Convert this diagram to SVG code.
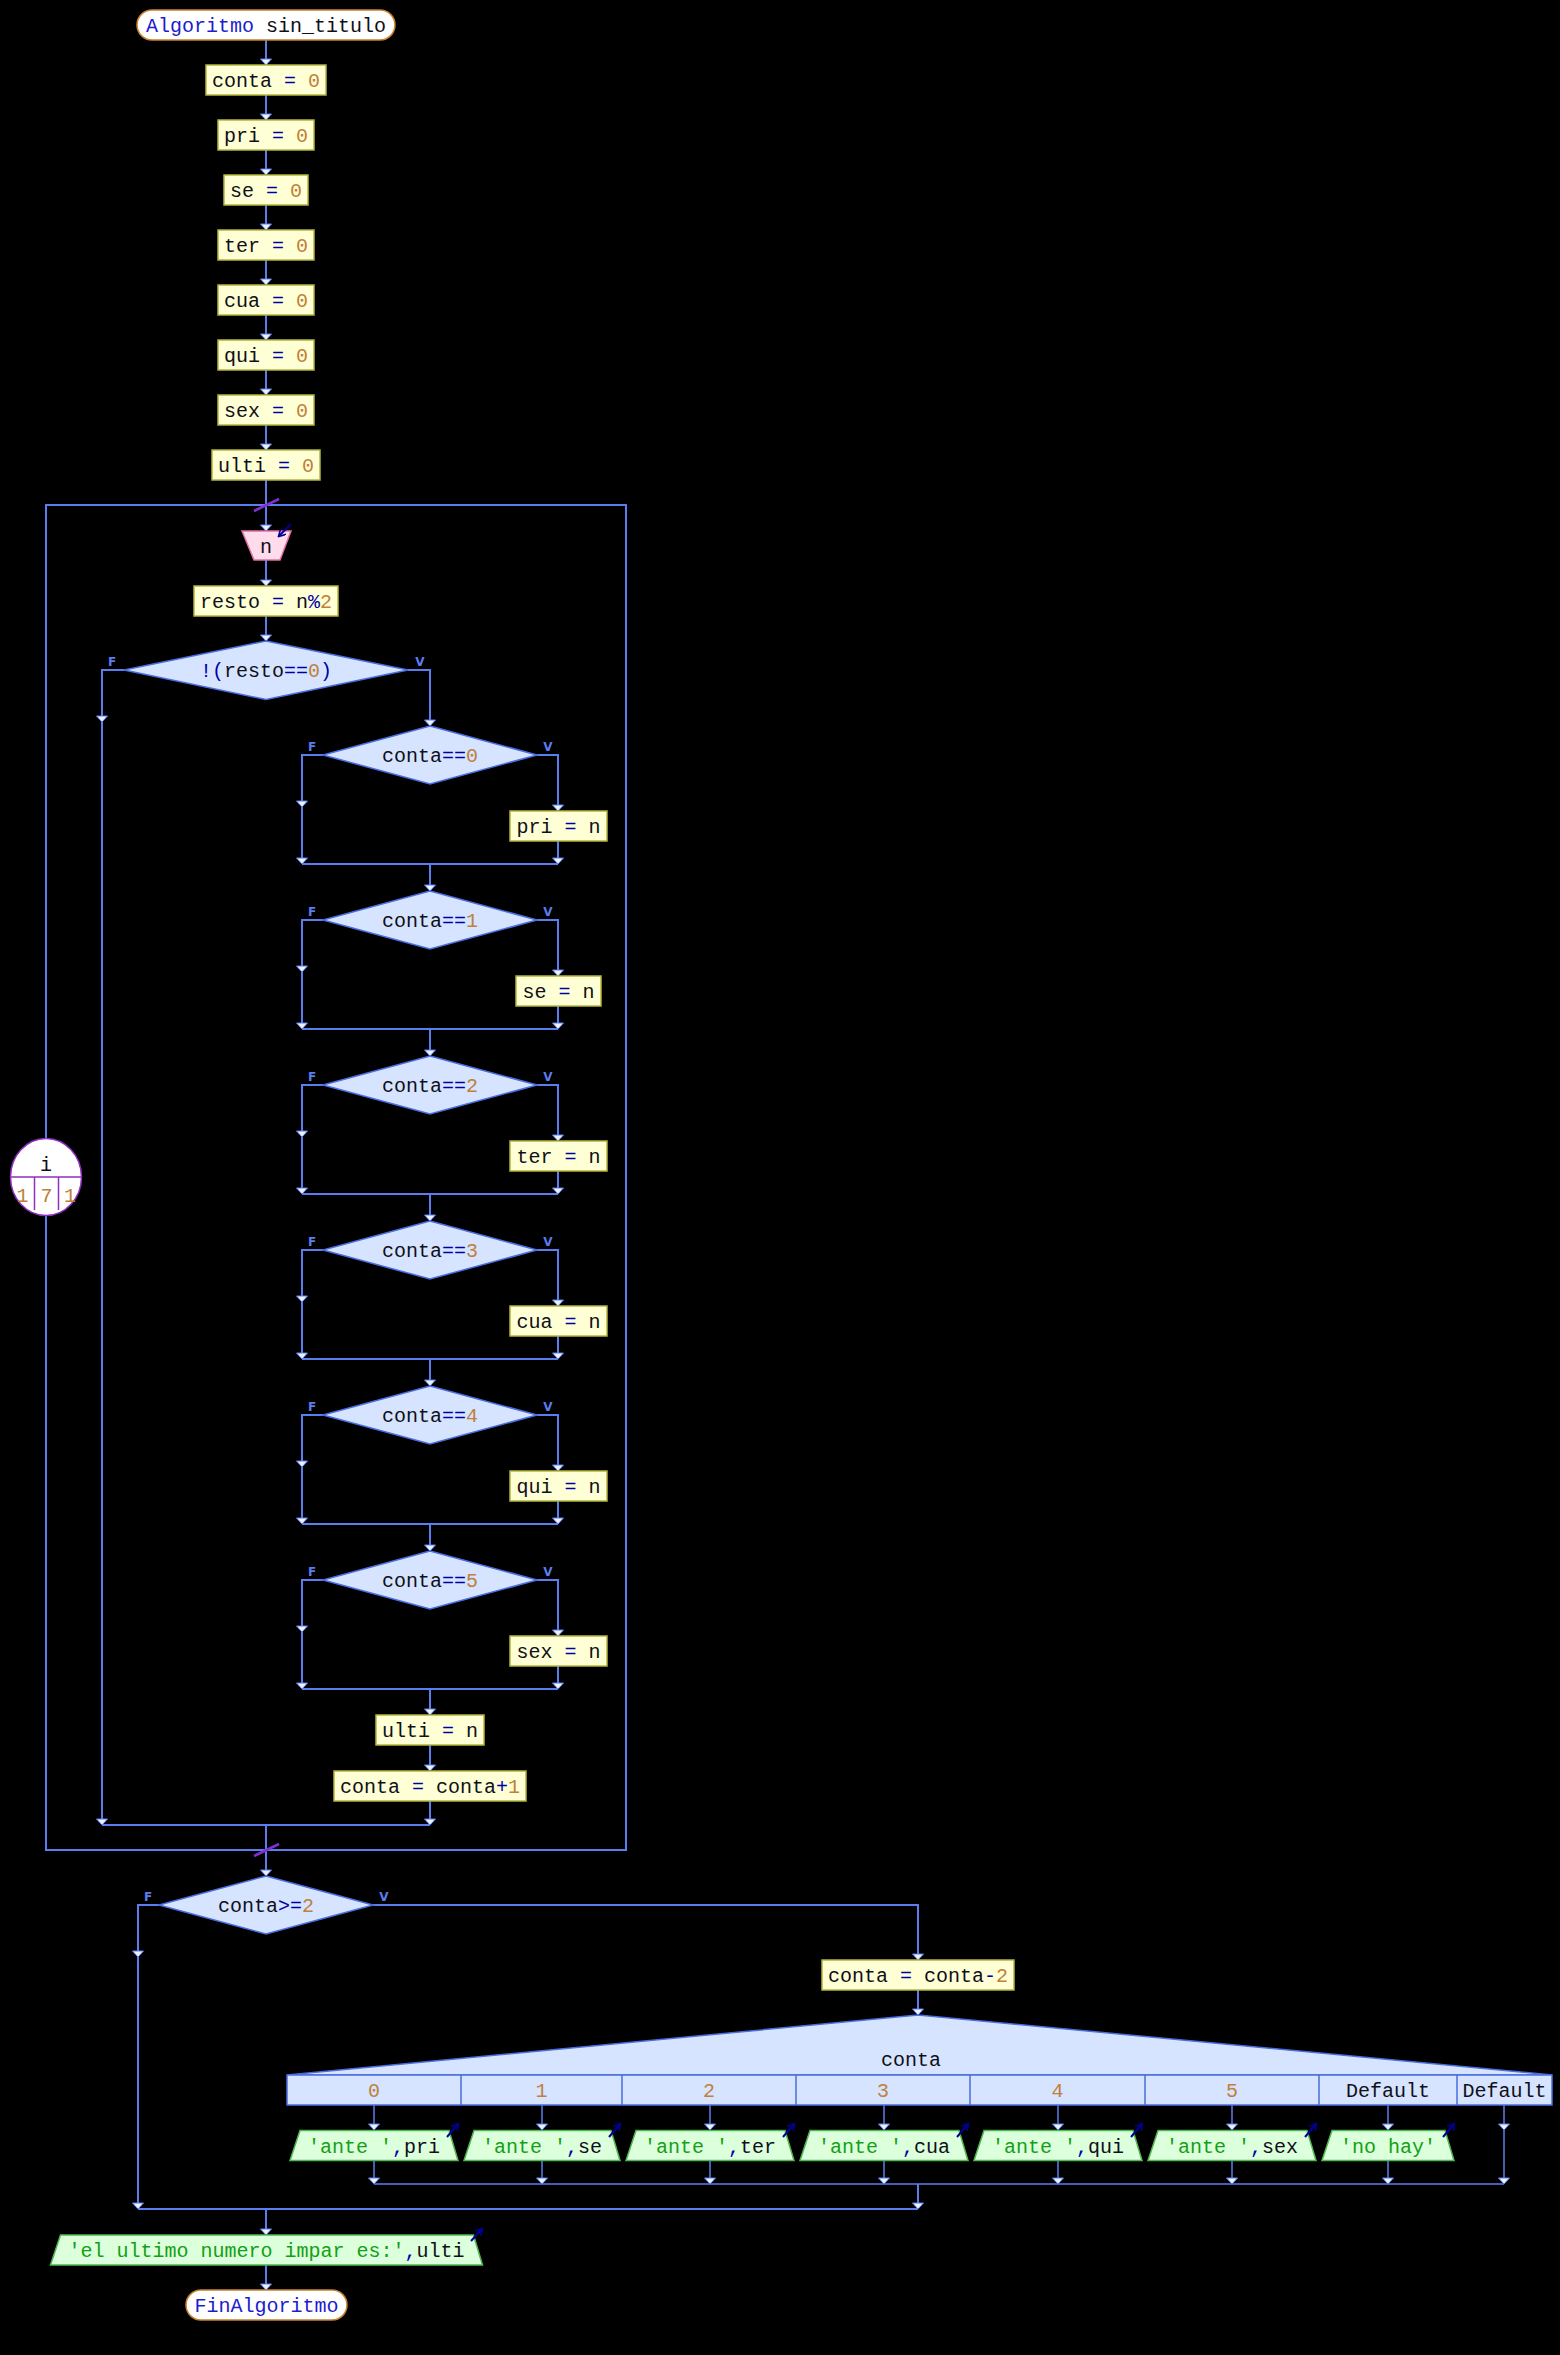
<svg xmlns="http://www.w3.org/2000/svg" xmlns:xlink="http://www.w3.org/1999/xlink" width="1560" height="2355" viewBox="0 0 1560 2355">
<style>
.t{font-family:"Liberation Mono","DejaVu Sans Mono",monospace;font-size:20px;text-anchor:middle;fill:#101018;white-space:pre}
.k{fill:#1c1cd0}.o{fill:#0000a8}.n{fill:#c0803a}.s{fill:#14a014}
.lbl{font-family:"DejaVu Sans",sans-serif;font-size:12px;font-weight:bold;fill:#5a7ef0;text-anchor:middle}
.c{fill:none;stroke:#5a7ef0;stroke-width:2}
.c2{fill:none;stroke:#5a7ef0;stroke-width:1.5}
.proc{fill:#ffffd5;stroke:#b4b43c;stroke-width:1.5}
.term{fill:#ffffff;stroke:#c8822c;stroke-width:1.5}
.dec{fill:#d6e4ff;stroke:#4a6ee0;stroke-width:1.5}
.inp{fill:#ffdcec;stroke:#e070a0;stroke-width:1.5}
.out{fill:#dcffdc;stroke:#50b850;stroke-width:1.5}
.ind{fill:none;stroke:#000098;stroke-width:2}
.slash{stroke:#8030d0;stroke-width:2.5}
</style>
<defs>
<path id="ah" d="M-5.5,-6 L5.5,-6 L0,0 Z" fill="#eef2ff" stroke="#5a7ef0" stroke-width="1"/>
<marker id="tip" viewBox="0 0 10 10" refX="8" refY="5" markerWidth="8" markerHeight="8" markerUnits="userSpaceOnUse" orient="auto"><path d="M0,0 L9,5 L0,10" fill="none" stroke="#000098" stroke-width="2"/></marker>
</defs>
<rect width="1560" height="2355" fill="#000"/>

<g id="connectors">
<path class="c" d="M266,40V65M266,95V120M266,150V175M266,205V230M266,260V285M266,315V340M266,370V395M266,425V450M266,480V531M266,560V586M266,616V641"/>
<path class="c" d="M124,670H102V1825M408,670H430V726"/>
<path class="c" d="M323,755H302V864M537,755H558V811M558,841V864M302,864H558M430,864V891"/>
<path class="c" d="M323,920H302V1029M537,920H558V976M558,1006V1029M302,1029H558M430,1029V1056"/>
<path class="c" d="M323,1085H302V1194M537,1085H558V1141M558,1171V1194M302,1194H558M430,1194V1221"/>
<path class="c" d="M323,1250H302V1359M537,1250H558V1306M558,1336V1359M302,1359H558M430,1359V1386"/>
<path class="c" d="M323,1415H302V1524M537,1415H558V1471M558,1501V1524M302,1524H558M430,1524V1551"/>
<path class="c" d="M323,1580H302V1689M537,1580H558V1636M558,1666V1689M302,1689H558M430,1689V1715"/>
<path class="c" d="M430,1745V1771M430,1801V1825M102,1825H430M266,1825V1876"/>
<path class="c" d="M46,505H626V1850H46Z"/>
<path class="c" d="M159,1905H138V2209M373,1905H918V1960M918,1990V2015"/>
<path class="c2" d="M374,2105V2130M374,2161V2184M542,2105V2130M542,2161V2184M710,2105V2130M710,2161V2184M884,2105V2130M884,2161V2184M1058,2105V2130M1058,2161V2184M1232,2105V2130M1232,2161V2184M1388,2105V2130M1388,2161V2184M1504,2105V2184M374,2184H1504"/>
<path class="c" d="M918,2184V2209M138,2209H918M266,2209V2235M266,2265V2290"/>
<line class="slash" x1="254" y1="511" x2="279" y2="499"/>
<line class="slash" x1="254" y1="1856" x2="279" y2="1844"/>
<g id="arrowheads">
<use href="#ah" x="266" y="65"/><use href="#ah" x="266" y="120"/><use href="#ah" x="266" y="175"/><use href="#ah" x="266" y="230"/><use href="#ah" x="266" y="285"/><use href="#ah" x="266" y="340"/><use href="#ah" x="266" y="395"/><use href="#ah" x="266" y="450"/><use href="#ah" x="266" y="531"/><use href="#ah" x="266" y="586"/><use href="#ah" x="266" y="641"/>
<use href="#ah" x="102" y="722"/><use href="#ah" x="430" y="726"/>
<use href="#ah" x="302" y="807"/><use href="#ah" x="558" y="811"/><use href="#ah" x="302" y="864"/><use href="#ah" x="558" y="864"/><use href="#ah" x="430" y="891"/>
<use href="#ah" x="302" y="972"/><use href="#ah" x="558" y="976"/><use href="#ah" x="302" y="1029"/><use href="#ah" x="558" y="1029"/><use href="#ah" x="430" y="1056"/>
<use href="#ah" x="302" y="1137"/><use href="#ah" x="558" y="1141"/><use href="#ah" x="302" y="1194"/><use href="#ah" x="558" y="1194"/><use href="#ah" x="430" y="1221"/>
<use href="#ah" x="302" y="1302"/><use href="#ah" x="558" y="1306"/><use href="#ah" x="302" y="1359"/><use href="#ah" x="558" y="1359"/><use href="#ah" x="430" y="1386"/>
<use href="#ah" x="302" y="1467"/><use href="#ah" x="558" y="1471"/><use href="#ah" x="302" y="1524"/><use href="#ah" x="558" y="1524"/><use href="#ah" x="430" y="1551"/>
<use href="#ah" x="302" y="1632"/><use href="#ah" x="558" y="1636"/><use href="#ah" x="302" y="1689"/><use href="#ah" x="558" y="1689"/><use href="#ah" x="430" y="1715"/>
<use href="#ah" x="430" y="1771"/><use href="#ah" x="430" y="1825"/><use href="#ah" x="102" y="1825"/><use href="#ah" x="266" y="1876"/>
<use href="#ah" x="138" y="1957"/><use href="#ah" x="918" y="1960"/><use href="#ah" x="918" y="2015"/>
<use href="#ah" x="374" y="2130"/><use href="#ah" x="542" y="2130"/><use href="#ah" x="710" y="2130"/><use href="#ah" x="884" y="2130"/><use href="#ah" x="1058" y="2130"/><use href="#ah" x="1232" y="2130"/><use href="#ah" x="1388" y="2130"/><use href="#ah" x="1504" y="2130"/>
<use href="#ah" x="374" y="2184"/><use href="#ah" x="542" y="2184"/><use href="#ah" x="710" y="2184"/><use href="#ah" x="884" y="2184"/><use href="#ah" x="1058" y="2184"/><use href="#ah" x="1232" y="2184"/><use href="#ah" x="1388" y="2184"/><use href="#ah" x="1504" y="2184"/>
<use href="#ah" x="918" y="2209"/><use href="#ah" x="138" y="2209"/><use href="#ah" x="266" y="2235"/><use href="#ah" x="266" y="2290"/>
</g>
<g id="branch-labels">
<text class="lbl" x="112" y="666">F</text><text class="lbl" x="420" y="666">V</text>
<text class="lbl" x="312" y="751">F</text><text class="lbl" x="548" y="751">V</text>
<text class="lbl" x="312" y="916">F</text><text class="lbl" x="548" y="916">V</text>
<text class="lbl" x="312" y="1081">F</text><text class="lbl" x="548" y="1081">V</text>
<text class="lbl" x="312" y="1246">F</text><text class="lbl" x="548" y="1246">V</text>
<text class="lbl" x="312" y="1411">F</text><text class="lbl" x="548" y="1411">V</text>
<text class="lbl" x="312" y="1576">F</text><text class="lbl" x="548" y="1576">V</text>
<text class="lbl" x="148" y="1901">F</text><text class="lbl" x="384" y="1901">V</text>
</g>
</g>

<g id="start"><rect class="term" x="137" y="10" width="258" height="30" rx="15"/><text class="t" x="266" y="32"><tspan class="k">Algoritmo</tspan> sin_titulo</text></g>
<g id="a_conta0"><rect class="proc" x="206" y="65" width="120" height="30"/><text class="t" x="266" y="87">conta<tspan class="o"> = </tspan><tspan class="n">0</tspan></text></g>
<g id="a_pri0"><rect class="proc" x="218" y="120" width="96" height="30"/><text class="t" x="266" y="142">pri<tspan class="o"> = </tspan><tspan class="n">0</tspan></text></g>
<g id="a_se0"><rect class="proc" x="224" y="175" width="84" height="30"/><text class="t" x="266" y="197">se<tspan class="o"> = </tspan><tspan class="n">0</tspan></text></g>
<g id="a_ter0"><rect class="proc" x="218" y="230" width="96" height="30"/><text class="t" x="266" y="252">ter<tspan class="o"> = </tspan><tspan class="n">0</tspan></text></g>
<g id="a_cua0"><rect class="proc" x="218" y="285" width="96" height="30"/><text class="t" x="266" y="307">cua<tspan class="o"> = </tspan><tspan class="n">0</tspan></text></g>
<g id="a_qui0"><rect class="proc" x="218" y="340" width="96" height="30"/><text class="t" x="266" y="362">qui<tspan class="o"> = </tspan><tspan class="n">0</tspan></text></g>
<g id="a_sex0"><rect class="proc" x="218" y="395" width="96" height="30"/><text class="t" x="266" y="417">sex<tspan class="o"> = </tspan><tspan class="n">0</tspan></text></g>
<g id="a_ulti0"><rect class="proc" x="212" y="450" width="108" height="30"/><text class="t" x="266" y="472">ulti<tspan class="o"> = </tspan><tspan class="n">0</tspan></text></g>

<g id="loop_i">
<ellipse cx="46" cy="1177" rx="35.5" ry="38.5" fill="#fff" stroke="#9030c0" stroke-width="1.5"/>
<path d="M10.5,1177H81.5M34.5,1177V1210M58.5,1177V1210" stroke="#9030c0" stroke-width="1.5" fill="none"/>
<text class="t" x="46" y="1171">i</text>
<text class="t n" x="22.5" y="1202">1</text><text class="t n" x="46.5" y="1202">7</text><text class="t n" x="70" y="1202">1</text>
</g>

<g id="read_n"><polygon class="inp" points="242,531 291,531 280,560 254,560"/><text class="t" x="266" y="553">n</text>
<line class="ind" x1="291" y1="524" x2="279" y2="536" marker-end="url(#tip)"/></g>
<g id="a_resto"><rect class="proc" x="194" y="586" width="144" height="30"/><text class="t" x="266" y="608">resto<tspan class="o"> = </tspan>n<tspan class="o">%</tspan><tspan class="n">2</tspan></text></g>
<g id="if_resto"><polygon class="dec" points="266,641 408,670 266,699.5 124,670"/><text class="t" x="266" y="677"><tspan class="o">!(</tspan>resto<tspan class="o">==</tspan><tspan class="n">0</tspan><tspan class="o">)</tspan></text></g>

<g id="if_c0"><polygon class="dec" points="430,726 537,755 430,784 323,755"/><text class="t" x="430" y="762">conta<tspan class="o">==</tspan><tspan class="n">0</tspan></text></g>
<g id="a_pri"><rect class="proc" x="510" y="811" width="97" height="30"/><text class="t" x="558.5" y="833">pri<tspan class="o"> = </tspan>n</text></g>
<g id="if_c1"><polygon class="dec" points="430,891 537,920 430,949 323,920"/><text class="t" x="430" y="927">conta<tspan class="o">==</tspan><tspan class="n">1</tspan></text></g>
<g id="a_se"><rect class="proc" x="516" y="976" width="85" height="30"/><text class="t" x="558.5" y="998">se<tspan class="o"> = </tspan>n</text></g>
<g id="if_c2"><polygon class="dec" points="430,1056 537,1085 430,1114 323,1085"/><text class="t" x="430" y="1092">conta<tspan class="o">==</tspan><tspan class="n">2</tspan></text></g>
<g id="a_ter"><rect class="proc" x="510" y="1141" width="97" height="30"/><text class="t" x="558.5" y="1163">ter<tspan class="o"> = </tspan>n</text></g>
<g id="if_c3"><polygon class="dec" points="430,1221 537,1250 430,1279 323,1250"/><text class="t" x="430" y="1257">conta<tspan class="o">==</tspan><tspan class="n">3</tspan></text></g>
<g id="a_cua"><rect class="proc" x="510" y="1306" width="97" height="30"/><text class="t" x="558.5" y="1328">cua<tspan class="o"> = </tspan>n</text></g>
<g id="if_c4"><polygon class="dec" points="430,1386 537,1415 430,1444 323,1415"/><text class="t" x="430" y="1422">conta<tspan class="o">==</tspan><tspan class="n">4</tspan></text></g>
<g id="a_qui"><rect class="proc" x="510" y="1471" width="97" height="30"/><text class="t" x="558.5" y="1493">qui<tspan class="o"> = </tspan>n</text></g>
<g id="if_c5"><polygon class="dec" points="430,1551 537,1580 430,1609 323,1580"/><text class="t" x="430" y="1587">conta<tspan class="o">==</tspan><tspan class="n">5</tspan></text></g>
<g id="a_sex"><rect class="proc" x="510" y="1636" width="97" height="30"/><text class="t" x="558.5" y="1658">sex<tspan class="o"> = </tspan>n</text></g>
<g id="a_ulti"><rect class="proc" x="376" y="1715" width="108" height="30"/><text class="t" x="430" y="1737">ulti<tspan class="o"> = </tspan>n</text></g>
<g id="a_conta_inc"><rect class="proc" x="334" y="1771" width="192" height="30"/><text class="t" x="430" y="1793">conta<tspan class="o"> = </tspan>conta<tspan class="o">+</tspan><tspan class="n">1</tspan></text></g>

<g id="if_conta2"><polygon class="dec" points="266,1876 373,1905 266,1934 159,1905"/><text class="t" x="266" y="1912">conta<tspan class="o">&gt;=</tspan><tspan class="n">2</tspan></text></g>
<g id="a_conta_dec"><rect class="proc" x="822" y="1960" width="192" height="30"/><text class="t" x="918" y="1982">conta<tspan class="o"> = </tspan>conta<tspan class="o">-</tspan><tspan class="n">2</tspan></text></g>

<g id="switch_conta">
<polygon class="dec" points="287,2075 918,2015 1552,2075"/>
<rect class="dec" x="287" y="2075" width="1265" height="30"/>
<path d="M461,2075V2105M622,2075V2105M796,2075V2105M970,2075V2105M1145,2075V2105M1319,2075V2105M1457,2075V2105" stroke="#4a6ee0" stroke-width="1.5"/>
<text class="t" x="911" y="2066">conta</text>
<text class="t n" x="374" y="2097">0</text><text class="t n" x="541.5" y="2097">1</text><text class="t n" x="709" y="2097">2</text><text class="t n" x="883" y="2097">3</text><text class="t n" x="1057.5" y="2097">4</text><text class="t n" x="1232" y="2097">5</text>
<text class="t" x="1388" y="2097">Default</text><text class="t" x="1504.5" y="2097">Default</text>
</g>
<g id="w_pri"><polygon class="out" points="290,2160.5 300,2130.5 449,2130.5 458,2160.5"/><text class="t" x="374" y="2153"><tspan class="s">'ante '</tspan><tspan class="o">,</tspan>pri</text><line class="ind" x1="447" y1="2137" x2="458" y2="2124" marker-end="url(#tip)"/></g>
<g id="w_se"><polygon class="out" points="464,2160.5 474,2130.5 611,2130.5 620,2160.5"/><text class="t" x="542" y="2153"><tspan class="s">'ante '</tspan><tspan class="o">,</tspan>se</text><line class="ind" x1="609" y1="2137" x2="620" y2="2124" marker-end="url(#tip)"/></g>
<g id="w_ter"><polygon class="out" points="626,2160.5 636,2130.5 785,2130.5 794,2160.5"/><text class="t" x="710" y="2153"><tspan class="s">'ante '</tspan><tspan class="o">,</tspan>ter</text><line class="ind" x1="783" y1="2137" x2="794" y2="2124" marker-end="url(#tip)"/></g>
<g id="w_cua"><polygon class="out" points="800,2160.5 810,2130.5 959,2130.5 968,2160.5"/><text class="t" x="884" y="2153"><tspan class="s">'ante '</tspan><tspan class="o">,</tspan>cua</text><line class="ind" x1="957" y1="2137" x2="968" y2="2124" marker-end="url(#tip)"/></g>
<g id="w_qui"><polygon class="out" points="974,2160.5 984,2130.5 1133,2130.5 1142,2160.5"/><text class="t" x="1058" y="2153"><tspan class="s">'ante '</tspan><tspan class="o">,</tspan>qui</text><line class="ind" x1="1131" y1="2137" x2="1142" y2="2124" marker-end="url(#tip)"/></g>
<g id="w_sex"><polygon class="out" points="1148,2160.5 1158,2130.5 1307,2130.5 1316,2160.5"/><text class="t" x="1232" y="2153"><tspan class="s">'ante '</tspan><tspan class="o">,</tspan>sex</text><line class="ind" x1="1305" y1="2137" x2="1316" y2="2124" marker-end="url(#tip)"/></g>
<g id="w_nohay"><polygon class="out" points="1322,2160.5 1332,2130.5 1445,2130.5 1454,2160.5"/><text class="t s" x="1388" y="2153">'no hay'</text><line class="ind" x1="1443" y1="2137" x2="1454" y2="2124" marker-end="url(#tip)"/></g>

<g id="w_final"><polygon class="out" points="50.5,2265 60.5,2235 473.5,2235 482.5,2265"/><text class="t" x="266.5" y="2257"><tspan class="s">'el ultimo numero impar es:'</tspan><tspan class="o">,</tspan>ulti</text><line class="ind" x1="471" y1="2241" x2="482" y2="2229" marker-end="url(#tip)"/></g>
<g id="end"><rect class="term" x="186" y="2290" width="161" height="30" rx="15"/><text class="t k" x="266.5" y="2312">FinAlgoritmo</text></g>
</svg>
